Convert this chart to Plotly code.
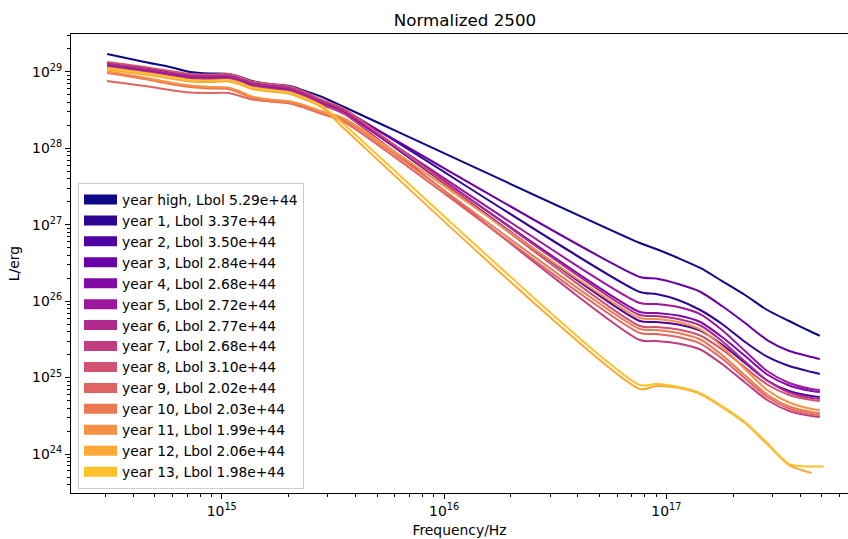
import plotly.graph_objects as go
from plotly.colors import sample_colorscale

# Frequencies (Hz) at which the curves were read
FREQ_HZ = [3.05e14, 4.5e14, 5.85e14, 7.2e14, 8.85e14, 1.07e15, 1.21e15, 1.37e15,
           1.65e15, 2.03e15, 2.37e15, 2.83e15, 3.55e15, 7.6e16, 9.0e16, 1.13e17,
           1.42e17, 1.78e17, 2.26e17, 2.84e17, 3.57e17, 4.5e17, 4.9e17, 5.1e17]

# log10(L/erg) for each year
LOG_L_HIGH = [29.236, 29.131, 29.065, 29.000, 28.980, 28.974, 28.935, 28.882, 28.843, 28.817,
              28.751, 28.673, 28.542, 26.762, 26.683, 26.565, 26.435, 26.264, 26.081, 25.885,
              25.741, 25.597, 25.548, None]
LOG_L_Y1 = [29.118, 29.052, 29.000, 28.961, 28.954, 28.961, 28.921, 28.863, 28.830, 28.797,
            28.725, 28.620, 28.503, 26.120, 26.094, 26.016, 25.885, 25.702, 25.466, 25.274,
            25.152, 25.073, 25.047, None]
LOG_L_Y2 = [29.092, 29.026, 28.974, 28.935, 28.928, 28.935, 28.895, 28.836, 28.804, 28.771,
            28.699, 28.594, 28.476, 25.741, 25.728, 25.695, 25.616, 25.433, 25.191, 24.962,
            24.825, 24.759, 24.746, None]
LOG_L_Y3 = [29.098, 29.033, 28.980, 28.941, 28.935, 28.941, 28.902, 28.843, 28.810, 28.777,
            28.705, 28.601, 28.483, 26.317, 26.297, 26.225, 26.124, 25.937, 25.715, 25.492,
            25.348, 25.270, 25.243, None]
LOG_L_Y4 = [29.079, 29.013, 28.961, 28.921, 28.915, 28.921, 28.882, 28.823, 28.791, 28.758,
            28.686, 28.581, 28.463, 25.859, 25.846, 25.813, 25.728, 25.531, 25.283, 25.041,
            24.897, 24.825, 24.812, None]
LOG_L_Y5 = [29.072, 29.007, 28.954, 28.915, 28.908, 28.915, 28.876, 28.817, 28.784, 28.751,
            28.679, 28.575, 28.457, 25.976, 25.963, 25.924, 25.832, 25.623, 25.348, 25.086,
            24.929, 24.851, 24.838, None]
LOG_L_Y6 = [29.105, 29.039, 28.987, 28.948, 28.941, 28.948, 28.908, 28.849, 28.817, 28.784,
            28.712, 28.607, 28.490, 25.819, 25.806, 25.767, 25.682, 25.479, 25.211, 24.962,
            24.805, 24.733, 24.720, None]
LOG_L_Y7 = [29.065, 29.000, 28.948, 28.908, 28.902, 28.908, 28.869, 28.810, 28.777, 28.745,
            28.673, 28.568, 28.450, 25.492, 25.479, 25.446, 25.368, 25.178, 24.936, 24.707,
            24.563, 24.497, 24.484, None]
LOG_L_Y8 = [29.131, 29.065, 29.013, 28.974, 28.967, 28.974, 28.935, 28.876, 28.843, 28.810,
            28.738, 28.634, 28.516, 25.675, 25.662, 25.630, 25.551, 25.368, 25.132, 24.910,
            24.772, 24.707, 24.694, None]
LOG_L_Y9 = [28.882, 28.817, 28.764, 28.731, 28.725, 28.725, 28.686, 28.640, 28.614, 28.588,
            28.529, 28.450, 28.346, 25.584, 25.571, 25.531, 25.446, 25.250, 24.988, 24.746,
            24.595, 24.524, 24.510, None]
LOG_L_Y10 = [28.987, 28.908, 28.843, 28.804, 28.784, 28.777, 28.725, 28.660, 28.620, 28.594,
             28.542, 28.463, 28.372, 25.636, 25.623, 25.584, 25.499, 25.296, 25.027, 24.779,
             24.622, 24.550, 24.537, None]
LOG_L_Y11 = [29.007, 28.928, 28.863, 28.823, 28.804, 28.797, 28.745, 28.679, 28.640, 28.614,
             28.562, 28.483, 28.391, 25.780, 25.767, 25.728, 25.630, 25.407, 25.112, 24.838,
             24.674, 24.589, 24.576, None]
LOG_L_Y12 = [29.033, 28.967, 28.915, 28.876, 28.869, 28.876, 28.836, 28.777, 28.745, 28.712,
             28.640, 28.535, 28.260, 24.851, 24.890, 24.866, 24.785, 24.615, 24.406, 24.131,
             23.856, 23.751, None, None]
LOG_L_Y13 = [29.052, 28.987, 28.935, 28.895, 28.889, 28.895, 28.856, 28.797, 28.764, 28.732,
             28.660, 28.555, 28.313, 24.903, 24.916, 24.877, 24.798, 24.628, 24.419, 24.144,
             23.869, 23.836, 23.836, 23.836]

LABELS = ["year high, Lbol 5.29e+44", "year 1, Lbol 3.37e+44", "year 2, Lbol 3.50e+44",
          "year 3, Lbol 2.84e+44", "year 4, Lbol 2.68e+44", "year 5, Lbol 2.72e+44",
          "year 6, Lbol 2.77e+44", "year 7, Lbol 2.68e+44", "year 8, Lbol 3.10e+44",
          "year 9, Lbol 2.02e+44", "year 10, Lbol 2.03e+44", "year 11, Lbol 1.99e+44",
          "year 12, Lbol 2.06e+44", "year 13, Lbol 1.98e+44"]

X_DECADES = [15, 16, 17]
Y_DECADES = [24, 25, 26, 27, 28, 29]

SERIES = [LOG_L_HIGH, LOG_L_Y1, LOG_L_Y2, LOG_L_Y3, LOG_L_Y4, LOG_L_Y5, LOG_L_Y6,
          LOG_L_Y7, LOG_L_Y8, LOG_L_Y9, LOG_L_Y10, LOG_L_Y11, LOG_L_Y12, LOG_L_Y13]

COLORS = sample_colorscale("Plasma", [i / 15 for i in range(len(SERIES))])

fig = go.Figure()
for label, vals, col in zip(LABELS, SERIES, COLORS):
    xs = [f for f, v in zip(FREQ_HZ, vals) if v is not None]
    ys = [10 ** v for v in vals if v is not None]
    fig.add_trace(go.Scatter(x=xs, y=ys, mode="lines",
                             line=dict(color=col, width=2, shape="spline", smoothing=0.7),
                             name=label, legendgroup=label, showlegend=False))
for label, col in zip(LABELS, COLORS):
    fig.add_trace(go.Scatter(x=[None], y=[None], mode="lines",
                             line=dict(color=col, width=10),
                             name=label, legendgroup=label, showlegend=True))

W, H = 848, 539
L, R, T, B = 71, 0, 34, 46
pw, ph = W - L - R, H - T - B
FS = 13.9


def dec_label(p):
    return "10<sup><span style='font-size:9.7px'>%d</span></sup>" % p


fig.update_layout(
    width=W, height=H,
    margin=dict(l=L, r=R, t=T, b=B),
    paper_bgcolor="white", plot_bgcolor="white",
    font=dict(family="DejaVu Sans", size=FS, color="black"),
    title=dict(text="Normalized 2500", x=465 / W, xref="container", xanchor="center",
               y=1 - 26 / H, yref="container", yanchor="bottom",
               font=dict(size=16.7, color="black")),
    legend=dict(x=7 / pw, y=4 / ph, xanchor="left", yanchor="bottom",
                bgcolor="rgba(255,255,255,0.8)", bordercolor="#cccccc", borderwidth=1,
                font=dict(size=13.8), tracegroupgap=0, itemwidth=33),
    showlegend=True,
)
common = dict(showline=True, linecolor="black", linewidth=1.3, ticks="outside",
              ticklen=5, tickwidth=1.1, tickcolor="black", showgrid=False,
              zeroline=False, tickfont=dict(family="DejaVu Sans", size=FS, color="black"),
              minor=dict(ticks="outside", ticklen=3, tickwidth=0.8, tickcolor="black",
                         showgrid=False, dtick="D1"))
fig.update_xaxes(type="log", range=[14.322, 17.817], mirror=True,
                 tickmode="array", tickvals=[10.0 ** p for p in X_DECADES],
                 ticktext=[dec_label(p) for p in X_DECADES],
                 title=dict(text="Frequency/Hz", standoff=7, font=dict(size=FS, color="black")),
                 **common)
fig.update_yaxes(type="log", range=[23.49, 29.497], mirror=False,
                 tickmode="array", tickvals=[10.0 ** p for p in Y_DECADES],
                 ticktext=[dec_label(p) for p in Y_DECADES],
                 title=dict(text="L/erg", standoff=9, font=dict(size=FS, color="black")),
                 **common)

fig.write_html("out.html")
